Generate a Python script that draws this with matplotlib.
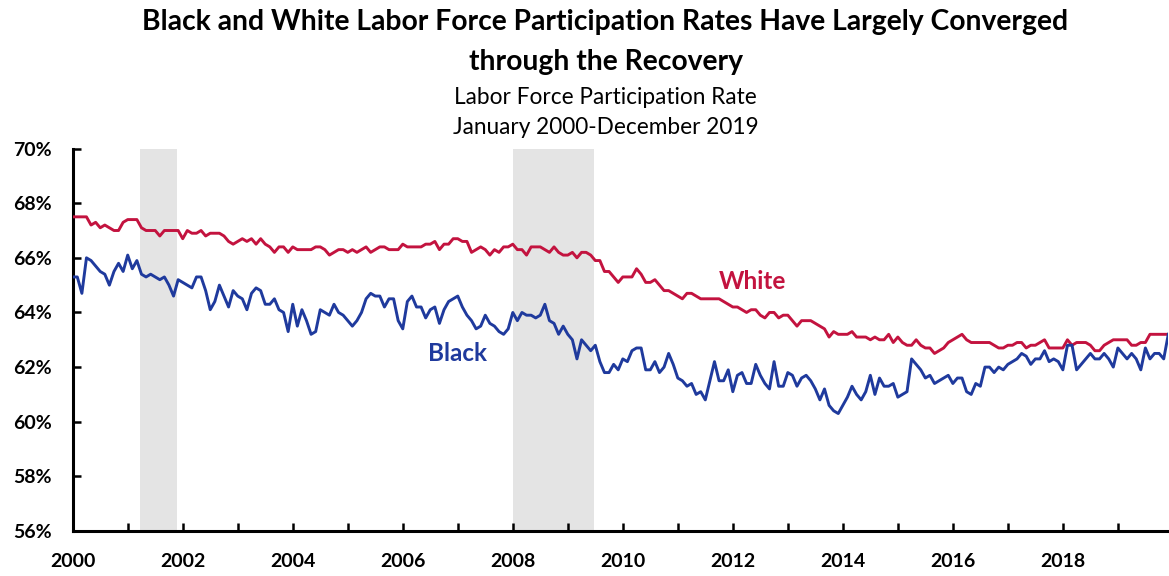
import numpy as np
import matplotlib
matplotlib.use("Agg")
import matplotlib.pyplot as plt
from matplotlib.ticker import MultipleLocator, FuncFormatter

plt.rcParams["font.family"] = ["Lato", "DejaVu Sans"]

# monthly labor force participation rate, Jan 2000 - Dec 2019 (%)
white = [
    67.5, 67.5, 67.5, 67.5, 67.2, 67.3, 67.1, 67.2, 67.1, 67.0, 67.0, 67.3,  # 2000
    67.4, 67.4, 67.4, 67.1, 67.0, 67.0, 67.0, 66.8, 67.0, 67.0, 67.0, 67.0,  # 2001
    66.7, 67.0, 66.9, 66.9, 67.0, 66.8, 66.9, 66.9, 66.9, 66.8, 66.6, 66.5,  # 2002
    66.6, 66.7, 66.6, 66.7, 66.5, 66.7, 66.5, 66.4, 66.2, 66.4, 66.4, 66.2,  # 2003
    66.4, 66.3, 66.3, 66.3, 66.3, 66.4, 66.4, 66.3, 66.1, 66.2, 66.3, 66.3,  # 2004
    66.2, 66.3, 66.2, 66.3, 66.4, 66.2, 66.3, 66.4, 66.4, 66.3, 66.3, 66.3,  # 2005
    66.5, 66.4, 66.4, 66.4, 66.4, 66.5, 66.5, 66.6, 66.3, 66.5, 66.5, 66.7,  # 2006
    66.7, 66.6, 66.6, 66.2, 66.3, 66.4, 66.3, 66.1, 66.3, 66.2, 66.4, 66.4,  # 2007
    66.5, 66.3, 66.3, 66.1, 66.4, 66.4, 66.4, 66.3, 66.2, 66.4, 66.2, 66.1,  # 2008
    66.1, 66.2, 66.0, 66.2, 66.2, 66.1, 65.9, 65.9, 65.5, 65.5, 65.3, 65.1,  # 2009
    65.3, 65.3, 65.3, 65.6, 65.4, 65.1, 65.1, 65.2, 65.0, 64.8, 64.8, 64.7,  # 2010
    64.6, 64.5, 64.7, 64.7, 64.6, 64.5, 64.5, 64.5, 64.5, 64.5, 64.4, 64.3,  # 2011
    64.2, 64.2, 64.1, 64.0, 64.1, 64.1, 63.9, 63.8, 64.0, 64.0, 63.8, 63.9,  # 2012
    63.9, 63.7, 63.5, 63.7, 63.7, 63.7, 63.6, 63.5, 63.4, 63.1, 63.3, 63.2,  # 2013
    63.2, 63.2, 63.3, 63.1, 63.1, 63.1, 63.0, 63.1, 63.0, 63.0, 63.2, 62.9,  # 2014
    63.1, 62.9, 62.8, 62.8, 63.0, 62.8, 62.7, 62.7, 62.5, 62.6, 62.7, 62.9,  # 2015
    63.0, 63.1, 63.2, 63.0, 62.9, 62.9, 62.9, 62.9, 62.9, 62.8, 62.7, 62.7,  # 2016
    62.8, 62.8, 62.9, 62.9, 62.7, 62.8, 62.8, 62.9, 63.0, 62.7, 62.7, 62.7,  # 2017
    62.7, 63.0, 62.8, 62.9, 62.9, 62.9, 62.8, 62.6, 62.6, 62.8, 62.9, 63.0,  # 2018
    63.0, 63.0, 63.0, 62.8, 62.8, 62.9, 62.9, 63.2, 63.2, 63.2, 63.2, 63.2,  # 2019
]
black = [
    65.3, 65.3, 64.7, 66.0, 65.9, 65.7, 65.5, 65.4, 65.0, 65.5, 65.8, 65.5,  # 2000
    66.1, 65.6, 65.9, 65.4, 65.3, 65.4, 65.3, 65.2, 65.3, 65.0, 64.6, 65.2,  # 2001
    65.1, 65.0, 64.9, 65.3, 65.3, 64.8, 64.1, 64.4, 65.0, 64.6, 64.2, 64.8,  # 2002
    64.6, 64.5, 64.1, 64.7, 64.9, 64.8, 64.3, 64.3, 64.5, 64.1, 64.0, 63.3,  # 2003
    64.3, 63.5, 64.1, 63.7, 63.2, 63.3, 64.1, 64.0, 63.9, 64.3, 64.0, 63.9,  # 2004
    63.7, 63.5, 63.7, 64.0, 64.5, 64.7, 64.6, 64.6, 64.2, 64.5, 64.5, 63.7,  # 2005
    63.4, 64.4, 64.6, 64.2, 64.2, 63.8, 64.1, 64.2, 63.6, 64.1, 64.4, 64.5,  # 2006
    64.6, 64.2, 63.9, 63.7, 63.4, 63.5, 63.9, 63.6, 63.5, 63.3, 63.2, 63.4,  # 2007
    64.0, 63.7, 64.0, 63.9, 63.9, 63.8, 63.9, 64.3, 63.7, 63.6, 63.2, 63.5,  # 2008
    63.2, 63.0, 62.3, 63.0, 62.8, 62.6, 62.8, 62.2, 61.8, 61.8, 62.1, 61.9,  # 2009
    62.3, 62.2, 62.6, 62.7, 62.7, 61.9, 61.9, 62.2, 61.8, 62.0, 62.5, 62.1,  # 2010
    61.6, 61.5, 61.3, 61.4, 61.0, 61.1, 60.8, 61.5, 62.2, 61.5, 61.5, 61.9,  # 2011
    61.1, 61.7, 61.8, 61.4, 61.4, 62.1, 61.7, 61.4, 61.2, 62.2, 61.3, 61.3,  # 2012
    61.8, 61.7, 61.3, 61.6, 61.7, 61.5, 61.2, 60.8, 61.2, 60.6, 60.4, 60.3,  # 2013
    60.6, 60.9, 61.3, 61.0, 60.8, 61.1, 61.7, 61.0, 61.6, 61.3, 61.3, 61.4,  # 2014
    60.9, 61.0, 61.1, 62.3, 62.1, 61.9, 61.6, 61.7, 61.4, 61.5, 61.6, 61.7,  # 2015
    61.4, 61.6, 61.6, 61.1, 61.0, 61.4, 61.3, 62.0, 62.0, 61.8, 62.0, 61.9,  # 2016
    62.1, 62.2, 62.3, 62.5, 62.4, 62.1, 62.3, 62.3, 62.6, 62.2, 62.3, 62.2,  # 2017
    61.9, 62.8, 62.8, 61.9, 62.1, 62.3, 62.5, 62.3, 62.3, 62.5, 62.3, 62.0,  # 2018
    62.7, 62.5, 62.3, 62.5, 62.3, 61.9, 62.7, 62.3, 62.5, 62.5, 62.3, 63.2,  # 2019
]
# recessions as decimal years
recessions = [(2001.23, 2001.90), (2008.0, 2009.47)]

months = 2000 + np.arange(len(white)) / 12

fig = plt.figure(figsize=(11.69, 5.76), dpi=100)
ax = fig.add_axes([0.0622, 0.0781, 0.9372, 0.6640])

for start, end in recessions:
    ax.axvspan(start, end, color="#e4e4e4", lw=0, zorder=0)

ax.plot(months, white, color="#c3133f", lw=2.1, zorder=3)
ax.plot(months, black, color="#1f3a9d", lw=2.1, zorder=3)

ax.text(2012.36, 65.13, "White", color="#c3133f", fontsize=17.5, fontweight="bold",
        ha="center", va="center")
ax.text(2007.0, 62.5, "Black", color="#1f3a9d", fontsize=17.5, fontweight="bold",
        ha="center", va="center")

ax.set_xlim(2000, months[-1])
ax.set_ylim(56, 70)
ax.xaxis.set_major_locator(MultipleLocator(1))
ax.xaxis.set_major_formatter(FuncFormatter(lambda v, p: f"{int(round(v))}" if int(round(v)) % 2 == 0 else ""))
ax.yaxis.set_major_locator(MultipleLocator(2))
ax.yaxis.set_major_formatter(FuncFormatter(lambda v, p: f"{v:.0f}%"))

for side in ["top", "right"]:
    ax.spines[side].set_visible(False)
for side in ["left", "bottom"]:
    ax.spines[side].set_linewidth(2.2)
ax.tick_params(direction="in", length=5.5, width=1.8, labelsize=14)
ax.tick_params(axis="x", pad=16)
ax.tick_params(axis="y", pad=15)
for lbl in ax.get_xticklabels() + ax.get_yticklabels():
    lbl.set_fontweight("bold")

fig.text(0.518, 0.962, "Black and White Labor Force Participation Rates Have Largely Converged",
         ha="center", va="center", fontsize=20.3, fontweight="bold")
fig.text(0.518, 0.892, "through the Recovery",
         ha="center", va="center", fontsize=20.3, fontweight="bold")
fig.text(0.518, 0.830, "Labor Force Participation Rate", ha="center", va="center", fontsize=16.3)
fig.text(0.518, 0.778, "January 2000-December 2019", ha="center", va="center", fontsize=16.3)

fig.savefig("out.png", dpi=100)
